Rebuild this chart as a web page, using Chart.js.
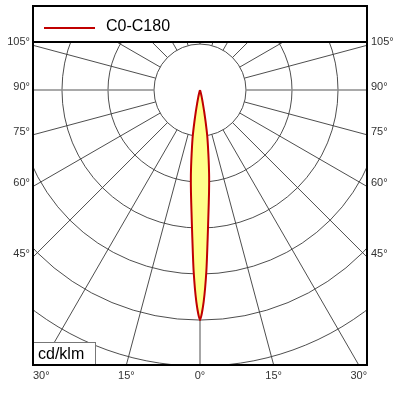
<!DOCTYPE html>
<html>
<head>
<meta charset="utf-8">
<script src="https://cdn.jsdelivr.net/npm/chart.js@4"></script>
<style>
  body { margin: 0; background: #fff; }
  #chart { display: block; }
</style>
</head>
<body>
<canvas id="chart" width="400" height="400"></canvas>
<script>
// luminous intensity, C0-C180 plane (cd/klm), gamma 0 = straight down
const gammaDeg = [0, 1, 2, 3, 4, 5, 6, 7, 8, 9, 10, 11, 12, 13, 14, 15, 20, 25, 90];
const intensity = [10000, 9200, 7900, 6400, 5300, 4500, 3800, 3100, 2500, 2000, 1400, 950, 600, 400, 280, 200, 40, 0, 0];
const ringValues = [2000, 4000, 6000, 8000, 10000, 12000, 14000, 16000];
const spokeDeg = [0, 15, 30, 45, 60, 75, 90, 105, 120, 135, 150, 165, 180];
const sideLabels = [45, 60, 75, 90, 105];
const bottomLabels = [0, 15, 30];
const seriesName = "C0-C180";
const unitName = "cd/klm";

// polar -> cartesian (0 deg down), both halves of the plane
const curve = [];
for (let i = gammaDeg.length - 1; i >= 0; i--) {
  const a = -gammaDeg[i] * Math.PI / 180;
  curve.push({ x: intensity[i] * Math.sin(a), y: -intensity[i] * Math.cos(a) });
}
for (let i = 1; i < gammaDeg.length; i++) {
  const a = gammaDeg[i] * Math.PI / 180;
  curve.push({ x: intensity[i] * Math.sin(a), y: -intensity[i] * Math.cos(a) });
}

const polarGrid = {
  id: "polarGrid",
  beforeDatasetsDraw(chart) {
    const { ctx, chartArea: ca, scales: { x, y } } = chart;
    const cx = x.getPixelForValue(0);
    const cy = y.getPixelForValue(0);
    const px = (v) => x.getPixelForValue(v) - cx;
    ctx.save();
    ctx.beginPath();
    ctx.rect(ca.left, ca.top, ca.right - ca.left, ca.bottom - ca.top);
    ctx.clip();
    ctx.strokeStyle = "#3a3a3a";
    ctx.lineWidth = 0.9;
    for (const v of ringValues) {
      ctx.beginPath();
      ctx.arc(cx, cy, px(v), 0, Math.PI * 2);
      ctx.stroke();
    }
    const r0 = px(ringValues[0]);
    const r1 = px(40000);
    for (const s of spokeDeg) {
      for (const sign of [1, -1]) {
        if ((s === 0 || s === 180) && sign < 0) continue;
        const a = sign * s * Math.PI / 180;
        const dx = Math.sin(a), dy = Math.cos(a);
        ctx.beginPath();
        if (s === 90) {
          ctx.strokeStyle = "#8c8c8c";
          ctx.lineWidth = 1.6;
        } else {
          ctx.strokeStyle = "#3a3a3a";
          ctx.lineWidth = 0.9;
        }
        ctx.moveTo(cx + r0 * dx, cy + r0 * dy);
        ctx.lineTo(cx + r1 * dx, cy + r1 * dy);
        ctx.stroke();
      }
    }
    ctx.restore();
  },
  afterDraw(chart) {
    const { ctx, chartArea: ca, scales: { x, y } } = chart;
    const cx = x.getPixelForValue(0);
    const cy = y.getPixelForValue(0);
    const halfW = ca.right - cx;
    const down = ca.bottom - cy;
    const legendTop = ca.top - 36;
    ctx.save();

    // unit box
    ctx.fillStyle = "#fff";
    ctx.fillRect(ca.left, ca.bottom - 22, 62, 22);
    ctx.strokeStyle = "#777";
    ctx.lineWidth = 1;
    ctx.strokeRect(ca.left + 0.5, ca.bottom - 22.5, 62, 22);
    ctx.fillStyle = "#000";
    ctx.font = "16px 'Liberation Sans', Arial, sans-serif";
    ctx.textAlign = "left";
    ctx.textBaseline = "alphabetic";
    ctx.fillText(unitName, ca.left + 5, ca.bottom - 6);

    // legend
    ctx.strokeStyle = "#c00000";
    ctx.lineWidth = 2;
    ctx.beginPath();
    ctx.moveTo(ca.left + 11, legendTop + 22);
    ctx.lineTo(ca.left + 62, legendTop + 22);
    ctx.stroke();
    ctx.textBaseline = "middle";
    ctx.fillText(seriesName, ca.left + 73, legendTop + 21);

    // frame
    ctx.strokeStyle = "#000";
    ctx.lineWidth = 2;
    ctx.strokeRect(ca.left, legendTop, ca.right - ca.left, ca.bottom - legendTop);
    ctx.beginPath();
    ctx.moveTo(ca.left, ca.top);
    ctx.lineTo(ca.right, ca.top);
    ctx.stroke();

    // angle labels
    ctx.fillStyle = "#333";
    ctx.font = "11px 'Liberation Sans', Arial, sans-serif";
    for (const a of sideLabels) {
      const t = a * Math.PI / 180;
      const ly = cy + halfW * Math.cos(t) / Math.sin(t) - 3;
      ctx.textAlign = "right";
      ctx.fillText(a + "°", ca.left - 3, ly);
      ctx.textAlign = "left";
      ctx.fillText(a + "°", ca.right + 4, ly);
    }
    ctx.textAlign = "center";
    for (const a of bottomLabels) {
      const off = down * Math.tan(a * Math.PI / 180);
      ctx.fillText(a + "°", cx - off, ca.bottom + 11);
      if (a !== 0) ctx.fillText(a + "°", cx + off, ca.bottom + 11);
    }
    ctx.restore();
  }
};

new Chart(document.getElementById("chart"), {
  type: "scatter",
  data: {
    datasets: [{
      label: seriesName,
      data: curve,
      showLine: true,
      borderColor: "#c00000",
      borderWidth: 2,
      backgroundColor: "#ffff8c",
      fill: "shape",
      pointRadius: 0,
      tension: 0.25,
    }],
  },
  options: {
    responsive: false,
    animation: false,
    layout: { padding: { left: 33, right: 33, top: 42, bottom: 35 } },
    plugins: { legend: { display: false }, tooltip: { enabled: false } },
    scales: {
      x: { display: false, min: -7260, max: 7260 },
      y: { display: false, min: -11960, max: 2090 },
    },
  },
  plugins: [polarGrid],
});
</script>
</body>
</html>
